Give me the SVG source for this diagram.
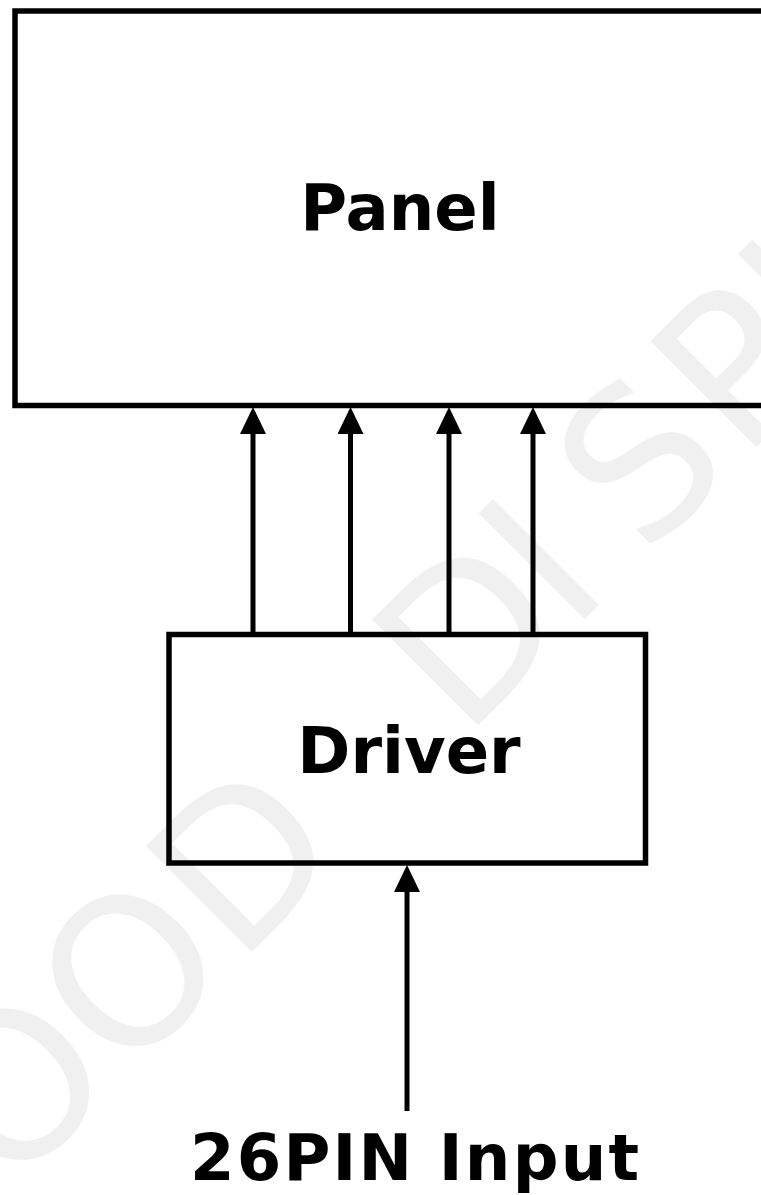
<svg xmlns="http://www.w3.org/2000/svg" width="761" height="1195" viewBox="0 0 761 1195">
  <style>
    .box { fill: none; stroke: #000; stroke-width: 5.5; }
    .lbl { font-family: "DejaVu Sans", Verdana, sans-serif; font-weight: bold; font-size: 64px; fill: #000; text-anchor: middle; }
    .wire { stroke: #000; stroke-width: 5; fill: none; marker-end: url(#arrow); }
    .wm { font-family: "DejaVu Sans", sans-serif; font-size: 205px; fill: #f0f0f0; }
  </style>
  <defs>
    <marker id="arrow" markerUnits="userSpaceOnUse" markerWidth="27" markerHeight="26" refX="0" refY="13" orient="auto" viewBox="0 0 27 26">
      <path d="M0,0 L27,13 L0,26 Z" fill="#000"/>
    </marker>
  </defs>
  <rect width="761" height="1195" fill="#fff"/>
  <g id="watermark">
    <text class="wm" transform="translate(-103,1306.4) rotate(-45)">GOOD<tspan dx="97 0 -7.5 45.5 7">&#160;DISPLAY</tspan></text>
  </g>
  <g id="panel">
    <rect class="box" x="15" y="11" width="770" height="394.5"/>
    <text class="lbl" x="400" y="230">Panel</text>
  </g>
  <g id="driver">
    <rect class="box" x="169" y="634.5" width="476.5" height="228.5"/>
    <text class="lbl" x="409" y="773">Driver</text>
  </g>
  <g id="input">
    <text class="lbl" x="414.5" y="1180" textLength="449" lengthAdjust="spacing">26PIN Input</text>
  </g>
  <g id="connectors">
    <line class="wire" x1="253" y1="632" x2="253" y2="434"/>
    <line class="wire" x1="350.5" y1="632" x2="350.5" y2="434"/>
    <line class="wire" x1="449" y1="632" x2="449" y2="434"/>
    <line class="wire" x1="533" y1="632" x2="533" y2="434"/>
    <line class="wire" x1="407" y1="1111" x2="407" y2="892"/>
  </g>
</svg>
